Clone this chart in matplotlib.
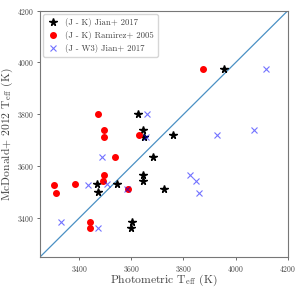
import matplotlib
matplotlib.use("Agg")
import matplotlib.pyplot as plt

plt.rcParams['font.family'] = 'serif'
plt.rcParams['font.serif'] = ['cmr10', 'DejaVu Serif']
plt.rcParams['mathtext.fontset'] = 'cm'
plt.rcParams['axes.formatter.use_mathtext'] = True

mcd_teff = [3975, 3800, 3739, 3712, 3722, 3635, 3568, 3542, 3514, 3533, 3531, 3500, 3386, 3363]
jk_jian = [3954, 3626, 3645, 3648, 3761, 3682, 3645, 3645, 3726, 3546, 3467, 3474, 3601, 3599]
mcd_teff_r = [3973, 3801, 3738, 3712, 3721, 3634, 3568, 3542, 3514, 3533, 3529, 3498, 3386, 3363]
jk_ramirez = [3875, 3472, 3494, 3497, 3630, 3536, 3494, 3492, 3587, 3385, 3305, 3311, 3443, 3441]
mcd_teff_w = [3973, 3801, 3712, 3721, 3738, 3635, 3568, 3542, 3498, 3529, 3533, 3514, 3386, 3363]
jw3_jian = [4118, 3659, 3655, 3927, 4070, 3486, 3824, 3847, 3861, 3435, 3505, 3585, 3332, 3471]

lims = [3250, 4200]
ticks = [3400, 3600, 3800, 4000, 4200]

fig = plt.figure(figsize=(3.03, 2.87), dpi=100)
ax = fig.add_axes([0.132, 0.1045, 0.818, 0.8585])

ax.plot(jk_jian, mcd_teff, '*', color='black', ms=5.5, label='(J - K) Jian+ 2017', zorder=3)
ax.plot(jk_ramirez, mcd_teff_r, 'o', color='red', ms=4.0, label='(J - K) Ramirez+ 2005', zorder=3)
ax.plot(jw3_jian, mcd_teff_w, 'x', color='blue', alpha=0.55, ms=4.2, mew=0.8, label='(J - W3) Jian+ 2017', zorder=3)
ax.plot(lims, lims, '-', color='#4a90c4', lw=0.9, zorder=2)

ax.set_xlim(lims)
ax.set_ylim(lims)
ax.set_xticks(ticks)
ax.set_yticks(ticks)
ax.tick_params(labelsize=5.5, length=2.5, width=0.6, pad=2.2, colors='#555555', labelcolor='#444444')
for s in ax.spines.values():
    s.set_color('#777777')
    s.set_linewidth(0.8)

ax.set_xlabel(r'Photometric T$_{\rm eff}$ (K)', fontsize=8.4, color='#444444', labelpad=-0.8)
ax.set_ylabel(r'McDonald+ 2012 T$_{\rm eff}$ (K)', fontsize=8.4, color='#444444', labelpad=1)

leg = ax.legend(loc='upper left', fontsize=6.3, frameon=True, handletextpad=0.8,
                borderpad=0.45, labelspacing=0.45, handlelength=1.2, borderaxespad=0.4)
for t in leg.get_texts():
    t.set_color('#444444')

fig.savefig('out.png', dpi=100)
